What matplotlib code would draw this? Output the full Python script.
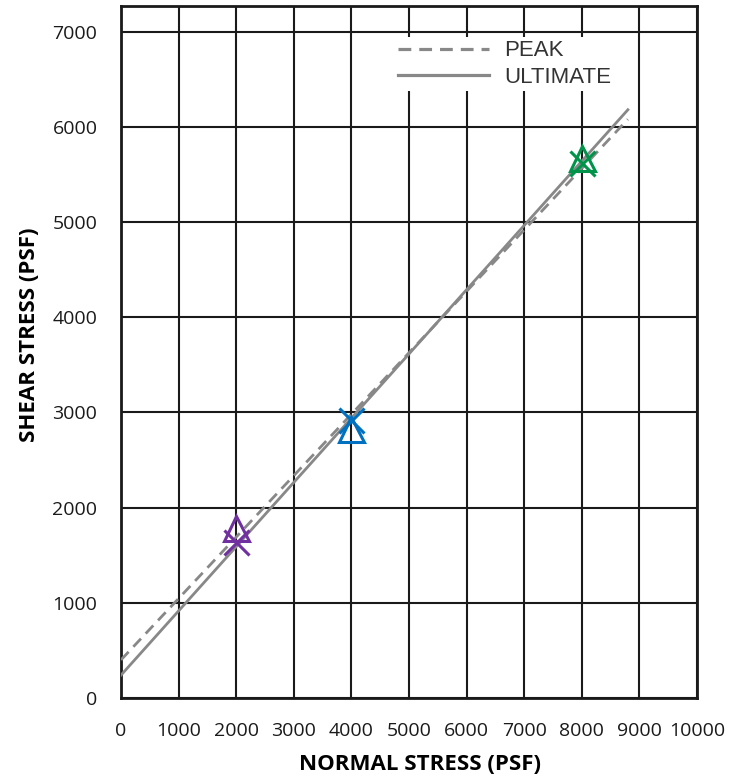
import numpy as np
import matplotlib.pyplot as plt

# test points (normal stress, shear stress)
normal = [2000, 4000, 8000]
peak_shear = [1790, 2830, 5670]
ult_shear = [1640, 2920, 5620]
colors = ['#7030a0', '#0070c0', '#00934a']

# fitted envelopes (end points)
peak_x = [0, 8800]
peak_y = [400, 6080]
ult_x = [0, 8800]
ult_y = [240, 6180]

plt.rcParams['font.family'] = ['Open Sans', 'DejaVu Sans']

fig = plt.figure(figsize=(7.46, 7.80), dpi=100)
ax = fig.add_axes([121/746, 1 - 698/780, (697-121)/746, (698-6)/780])

ax.plot(peak_x, peak_y, linestyle='--', color='#888888', lw=2, dashes=(4, 2.5), label='PEAK', zorder=3)
ax.plot(ult_x, ult_y, linestyle='-', color='#888888', lw=2, label='ULTIMATE', zorder=3)

for x, p, u, c in zip(normal, peak_shear, ult_shear, colors):
    ax.plot(x, p, marker='^', ms=18, mfc='none', mec=c, mew=2.2, zorder=4)
    ax.plot(x, u, marker='x', ms=18, mec=c, mew=2.2, zorder=4)

ax.set_xlim(0, 10000)
ax.set_ylim(0, 7270)
ax.set_xticks(np.arange(0, 10001, 1000))
ax.set_yticks(np.arange(0, 7001, 1000))
ax.grid(True, color='#1a1a1a', lw=1.5)
ax.set_axisbelow(True)
for s in ax.spines.values():
    s.set_linewidth(2)
    s.set_color('#1a1a1a')
ax.tick_params(length=0, labelsize=14, colors='#1a1a1a')
ax.tick_params(axis='x', pad=17)
ax.tick_params(axis='y', pad=17)

ax.set_xlabel('NORMAL STRESS (PSF)', fontsize=16, fontweight='bold', labelpad=10)
ax.set_ylabel('SHEAR STRESS (PSF)', fontsize=16, fontweight='bold', labelpad=9)
ax.xaxis.label.set_x(0.519)
ax.yaxis.label.set_y(0.525)

leg = ax.legend(loc='upper left', bbox_to_anchor=((395-121)/576, 1-(37-6)/692), borderaxespad=0,
                frameon=True, prop={'family': 'Liberation Sans', 'size': 16},
                handlelength=4.1, handletextpad=0.65, borderpad=0.15, labelspacing=0.25)
leg.get_frame().set_edgecolor('none')
leg.get_frame().set_facecolor('white')
leg.get_frame().set_alpha(1)
leg.get_frame().set_boxstyle('square', pad=0)
for t in leg.get_texts():
    t.set_color('#333333')
for h in leg.get_lines():
    h.set_linewidth(2.3)

fig.savefig('out.png', dpi=100)
